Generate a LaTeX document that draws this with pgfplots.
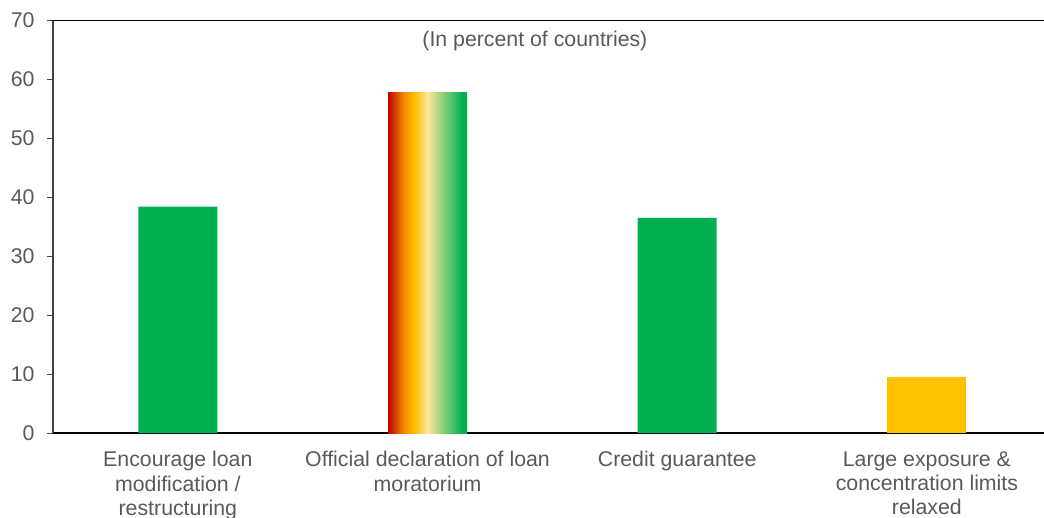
\documentclass[border=0pt]{standalone}
\usepackage{pgfplots}
\pgfplotsset{compat=1.18}
\usepackage{fontspec}
\setmainfont{Liberation Sans}
\definecolor{cgreen}{HTML}{00B050}
\definecolor{cyellow}{HTML}{FFC000}
\definecolor{ctext}{HTML}{595959}
\definecolor{caxis}{HTML}{404040}
\definecolor{sred}{HTML}{C00000}
\definecolor{sorange}{HTML}{F28A00}
\definecolor{slight}{HTML}{FFE699}
\pgfdeclarehorizontalshading{loanshade}{100bp}{
  color(0bp)=(sred);
  color(25bp)=(sred);
  color(35bp)=(sorange);
  color(42bp)=(cyellow);
  color(50bp)=(slight);
  color(72bp)=(cgreen);
  color(100bp)=(cgreen)}
\begin{document}
\begin{tikzpicture}
\begin{axis}[
  scale only axis,
  width=998.8bp, height=412.5bp,
  xmin=-0.5, xmax=3.5,
  ymin=0, ymax=70,
  ytick={0,10,...,70},
  xtick={0,1,2,3},
  xticklabels={{Encourage loan\\modification /\\restructuring},
               {Official declaration of loan\\moratorium},
               {Credit guarantee},
               {Large exposure \&\\concentration limits\\relaxed}},
  axis y line*=left,
  axis x line*=bottom,
  y axis line style={color=caxis, line width=1.3bp, -},
  x axis line style={color=black, line width=1.1bp, -},
  x tick style={draw=none},
  major x tick style={draw=none},
  y tick style={color=caxis, line width=1bp},
  tick align=outside,
  major tick length=6bp,
  /pgf/number format/assume math mode=true,
  tick label style={font=\fontsize{21.3bp}{24.2bp}\selectfont, text=ctext},
  xticklabel style={align=center, yshift=-9bp},
  yticklabel style={xshift=-9bp},
  ybar, bar width=79bp,
  clip=false,
]
\addplot[fill=cgreen, draw=none, bar shift=0pt] coordinates {(0,38.4) (2,36.5)};
\addplot[draw=none, shading=loanshade, bar shift=0pt] coordinates {(1,57.7)};
\addplot[fill=cyellow, draw=none, bar shift=0pt] coordinates {(3,9.5)};
\draw[black, line width=1.1bp] (rel axis cs:0,1) -- (rel axis cs:1,1);
\node[font=\fontsize{21.3bp}{24.2bp}\selectfont, text=ctext] at (axis cs:1.43,66.6) {(In percent of countries)};
\coordinate (bl) at (rel axis cs:0,0);
\end{axis}
\pgfresetboundingbox
\path[use as bounding box] ([shift={(-53bp,-85bp)}]bl) rectangle ([shift={(991bp,433bp)}]bl);
\end{tikzpicture}
\end{document}
